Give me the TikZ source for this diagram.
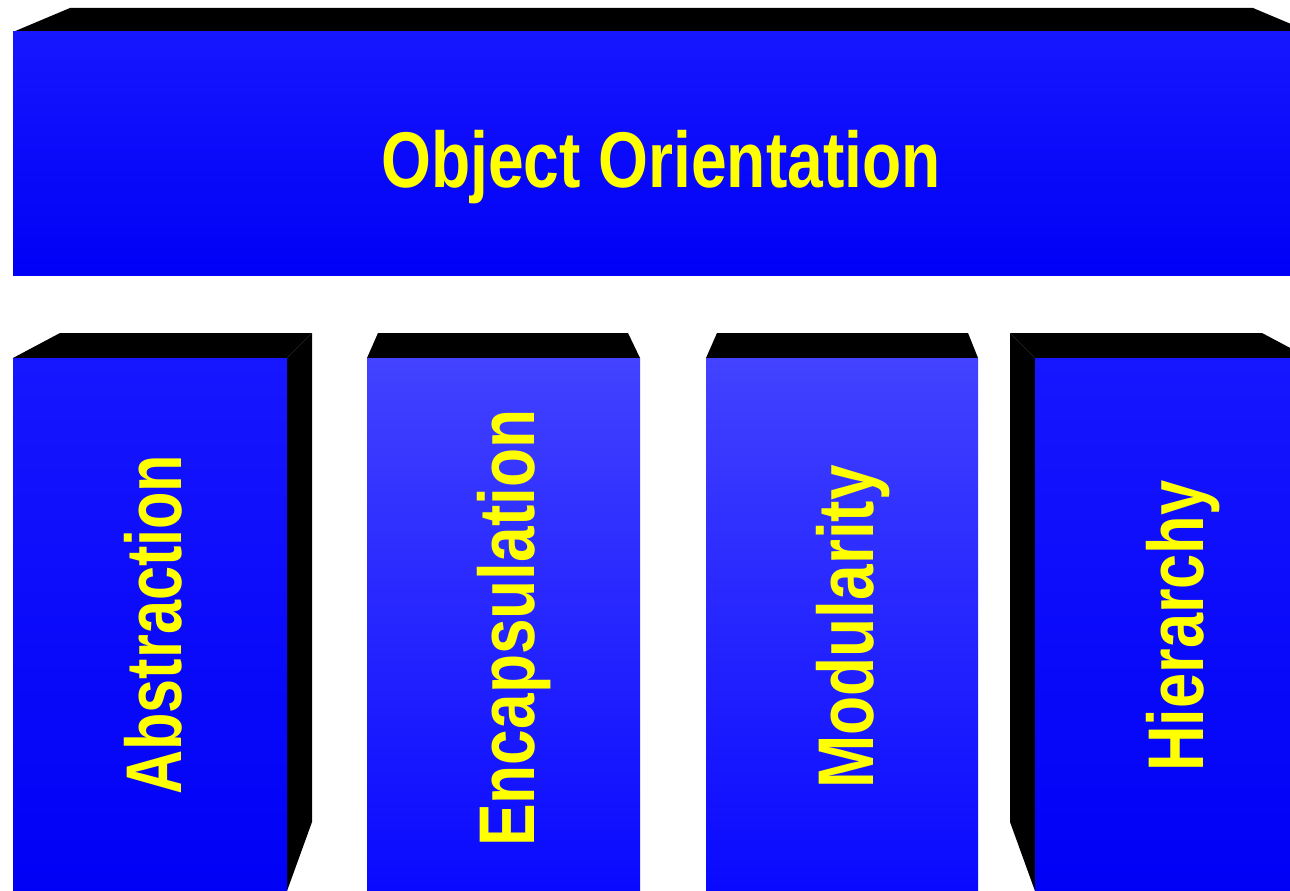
\documentclass[tikz,border=0pt]{standalone}
\usepackage{fontspec}
\setmainfont{Liberation Sans}
\usetikzlibrary{positioning}
\definecolor{faceTop}{RGB}{22,22,255}
\definecolor{faceBot}{RGB}{0,0,246}
\definecolor{paleTop}{RGB}{66,66,255}
\definecolor{paleBot}{RGB}{8,8,255}
\definecolor{wordYellow}{RGB}{255,255,0}
\tikzstyle{face} = [top color=faceTop, bottom color=faceBot]
\tikzstyle{paleface} = [top color=paleTop, bottom color=paleBot]
\tikzstyle{shade3d} = [fill=black]
\tikzstyle{word} = [inner sep=0pt, text=wordYellow, font=\fontsize{79}{80}\selectfont\bfseries]
\tikzstyle{upword} = [word, rotate=90, anchor=base west]
\newcommand{\squeeze}[2][0.8]{\scalebox{#1}[1]{#2}}

\begin{document}
\begin{tikzpicture}[x=1pt, y=-1pt]
	\useasboundingbox (0,0) rectangle (1290,891);
	\clip (0,0) rectangle (1290,891);

	% top bar
	\fill[shade3d] (13,32) -- (70,8) -- (1253,8) -- (1310,32) -- cycle;
	\fill[face] (13,32) rectangle (1310,275);
	\node[word, anchor=base west] (title) at (381,187) {\squeeze[0.812]{Object Orientation}};

	% pillars
	\fill[shade3d] (13,358) -- (60,333) -- (312,333) -- (287,358) -- cycle;
	\fill[shade3d] (287,358) -- (312,333) -- (312,822) -- (287,891) -- cycle;
	\fill[face] (13,358) rectangle (287,900);

	\fill[shade3d] (367,358) -- (378,333) -- (628,333) -- (640,358) -- cycle;
	\fill[paleface] (367,358) rectangle (640,900);

	\fill[shade3d] (706,358) -- (717,333) -- (968,333) -- (978,358) -- cycle;
	\fill[paleface] (706,358) rectangle (978,900);

	\fill[shade3d] (1035,358) -- (1010,333) -- (1262,333) -- (1309,358) -- cycle;
	\fill[shade3d] (1035,358) -- (1010,333) -- (1010,822) -- (1035,891) -- cycle;
	\fill[face] (1035,358) rectangle (1310,900);

	\node[upword] (abstraction) at (181,795) {\squeeze[0.775]{Abstraction}};
	\node[upword] (encapsulation) at (534,847) {\squeeze[0.81]{Encapsulation}};
	\node[upword] (modularity) at (873,789) {\squeeze[0.81]{Modularity}};
	\node[upword] (hierarchy) at (1203,772) {\squeeze{Hierarchy}};
\end{tikzpicture}
\end{document}
